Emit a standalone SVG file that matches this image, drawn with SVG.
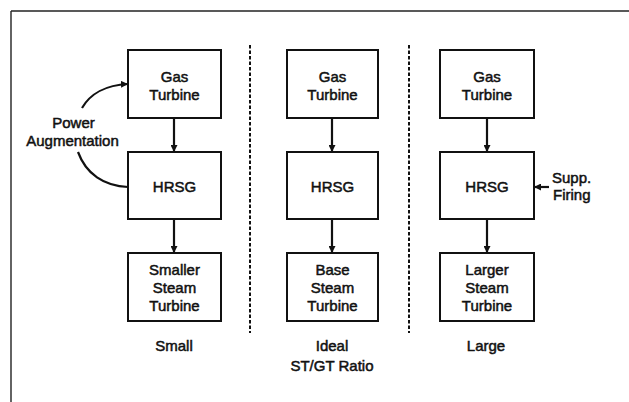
<svg xmlns="http://www.w3.org/2000/svg" width="629" height="402" viewBox="0 0 629 402">
<defs>
<marker id="ah" viewBox="0 0 10 10" refX="10" refY="5" markerWidth="7" markerHeight="7" markerUnits="userSpaceOnUse" orient="auto">
<path d="M0,0 L10,5 L0,10 z" fill="#111"/>
</marker>
<style>
.box{fill:#fff;stroke:#111;stroke-width:2}
.t{font-family:"Liberation Sans",Arial,sans-serif;font-size:15px;fill:#111;stroke:#111;stroke-width:0.5;text-anchor:middle}
.tl{text-anchor:start}
.c{fill:none;stroke:#111;stroke-width:2.2}
.d{fill:none;stroke:#111;stroke-width:2;stroke-dasharray:3.5 2}
.f{fill:none;stroke:#222;stroke-width:1.4}
</style>
</defs>
<rect width="629" height="402" fill="#fff"/>
<g id="frame">
<line class="f" x1="11" y1="11" x2="629" y2="11"/>
<line class="f" x1="11" y1="11" x2="11" y2="402"/>
</g>
<g id="dividers">
<line class="d" x1="250" y1="45" x2="250" y2="333"/>
<line class="d" x1="409" y1="45" x2="409" y2="333"/>
</g>
<g id="gt1"><rect class="box" x="128" y="50" width="93" height="68"/><text class="t" x="174.5" y="82">Gas</text><text class="t" x="174.5" y="100">Turbine</text></g>
<g id="hrsg1"><rect class="box" x="128" y="152" width="93" height="67"/><text class="t" x="174.5" y="192">HRSG</text></g>
<g id="st1"><rect class="box" x="128" y="253" width="93" height="68"/><text class="t" x="174.5" y="275">Smaller</text><text class="t" x="174.5" y="293">Steam</text><text class="t" x="174.5" y="311">Turbine</text></g>
<g id="gt2"><rect class="box" x="287" y="50" width="91" height="68"/><text class="t" x="332.5" y="82">Gas</text><text class="t" x="332.5" y="100">Turbine</text></g>
<g id="hrsg2"><rect class="box" x="287" y="152" width="91" height="67"/><text class="t" x="332.5" y="192">HRSG</text></g>
<g id="st2"><rect class="box" x="287" y="253" width="91" height="68"/><text class="t" x="332.5" y="275">Base</text><text class="t" x="332.5" y="293">Steam</text><text class="t" x="332.5" y="311">Turbine</text></g>
<g id="gt3"><rect class="box" x="440" y="50" width="94" height="68"/><text class="t" x="487" y="82">Gas</text><text class="t" x="487" y="100">Turbine</text></g>
<g id="hrsg3"><rect class="box" x="440" y="152" width="94" height="67"/><text class="t" x="487" y="192">HRSG</text></g>
<g id="st3"><rect class="box" x="440" y="253" width="94" height="68"/><text class="t" x="487" y="275">Larger</text><text class="t" x="487" y="293">Steam</text><text class="t" x="487" y="311">Turbine</text></g>
<g id="power-aug"><text class="t" x="73.5" y="128">Power</text><text class="t" x="72.5" y="146">Augmentation</text></g>
<g id="supp-firing"><text class="t tl" x="552" y="183">Supp.</text><text class="t tl" x="553" y="200">Firing</text></g>
<g id="labels">
<text class="t" x="174" y="351">Small</text>
<text class="t" x="332" y="351">Ideal</text>
<text class="t" x="332" y="371">ST/GT Ratio</text>
<text class="t" x="486" y="351">Large</text>
</g>
<g id="connectors">
<line class="c" x1="174" y1="118" x2="174" y2="152" marker-end="url(#ah)"/>
<line class="c" x1="174" y1="219" x2="174" y2="253" marker-end="url(#ah)"/>
<line class="c" x1="332" y1="118" x2="332" y2="152" marker-end="url(#ah)"/>
<line class="c" x1="332" y1="219" x2="332" y2="253" marker-end="url(#ah)"/>
<line class="c" x1="487" y1="118" x2="487" y2="152" marker-end="url(#ah)"/>
<line class="c" x1="487" y1="219" x2="487" y2="253" marker-end="url(#ah)"/>
<line class="c" x1="549" y1="187" x2="534" y2="187" marker-end="url(#ah)"/>
<path class="c" d="M82,108 C90,94 106,85 128,84" marker-end="url(#ah)"/>
<path class="c" d="M78,152 C86,174 104,186 128,187"/>
</g>
</svg>
